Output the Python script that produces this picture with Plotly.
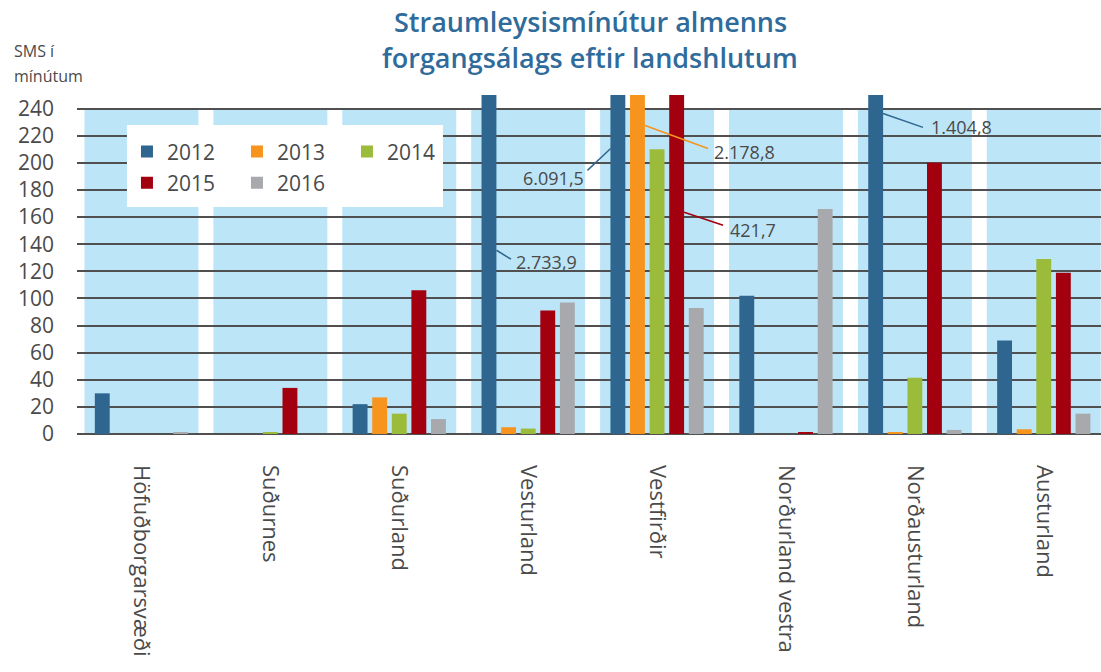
import plotly.graph_objects as go

categories = ["Höfuðborgarsvæði", "Suðurnes", "Suðurland", "Vesturland",
              "Vestfirðir", "Norðurland vestra", "Norðausturland", "Austurland"]
years = ["2012", "2013", "2014", "2015", "2016"]
v2012 = [30, 0, 22, 2733.9, 6091.5, 102, 1404.8, 69]
v2013 = [0, 0, 27, 5, 2178.8, 0, 1.5, 3.5]
v2014 = [0, 1, 15, 4, 210, 0, 41.5, 129]
v2015 = [0, 34, 106, 91, 421.7, 1.5, 200, 119]
v2016 = [1, 0, 11, 97, 93, 166, 3, 15]
series = [v2012, v2013, v2014, v2015, v2016]
colors = ["#2f6690", "#f7941d", "#9bbb3b", "#a3000f", "#a7a9ac"]
yticks = list(range(0, 241, 20))

FONT = "Open Sans"
TXT = "#4a4a4a"

fig = go.Figure()
x = list(range(len(categories)))
for i, (yr, vals, col) in enumerate(zip(years, series, colors)):
    fig.add_trace(go.Bar(
        x=x, y=vals, name=yr, marker=dict(color=col, line=dict(width=0)),
        legend="legend" if i < 3 else "legend2",
        hoverinfo="x+y+name",
    ))

shapes = []
# light-blue category bands
for c in x:
    shapes.append(dict(type="rect", xref="x", yref="y", x0=c - 0.442, x1=c + 0.442,
                       y0=0, y1=240, fillcolor="#bde5f8", line=dict(width=0), layer="below"))
# white legend box
shapes.append(dict(type="rect", xref="paper", yref="paper", x0=0.0488, x1=0.3574,
                   y0=0.6696, y1=0.9115, fillcolor="white", line=dict(width=0), layer="above"))


def fmt(v):
    s = f"{v:,.1f}"
    return s.replace(",", "X").replace(".", ",").replace("X", ".")

# leader lines and labels for clipped bars: (series idx, cat idx, line start, line end, text pos, anchor, color)
callouts = [
    (0, 4, (3.64, 210.6), (3.46, 194.4), (3.45, 188.5), "right", colors[0]),
    (0, 3, (2.754, 135.5), (2.867, 128.9), (2.89, 127.0), "left", colors[0]),
    (1, 4, (3.907, 227.5), (4.395, 210.6), (4.426, 208.0), "left", colors[1]),
    (3, 4, (4.21, 163.5), (4.512, 153.9), (4.55, 150.2), "left", colors[3]),
    (0, 6, (5.753, 236.4), (6.063, 226.1), (6.11, 226.4), "left", colors[0]),
]
annotations = []
for si, ci, p0, p1, tp, anchor, col in callouts:
    shapes.append(dict(type="line", xref="x", yref="y", x0=p0[0], y0=p0[1], x1=p1[0], y1=p1[1],
                       line=dict(color=col, width=1.5), layer="above"))
    annotations.append(dict(xref="x", yref="y", x=tp[0], y=tp[1], text=fmt(series[si][ci]),
                            showarrow=False, xanchor=anchor, yanchor="middle",
                            font=dict(family=FONT, size=18, color=TXT)))

annotations += [
    dict(xref="paper", yref="paper", x=-0.0635, y=1.130, text="SMS í", showarrow=False,
         xanchor="left", yanchor="middle", font=dict(family=FONT, size=16, color=TXT)),
    dict(xref="paper", yref="paper", x=-0.0635, y=1.056, text="mínútum", showarrow=False,
         xanchor="left", yanchor="middle", font=dict(family=FONT, size=16, color=TXT)),
    dict(xref="paper", yref="paper", x=0.501, y=1.218, text="Straumleysismínútur almenns",
         showarrow=False, xanchor="center", yanchor="middle",
         font=dict(family=FONT, size=27, color="#2f6b9b", weight=600)),
    dict(xref="paper", yref="paper", x=0.501, y=1.112, text="forgangsálags eftir landshlutum",
         showarrow=False, xanchor="center", yanchor="middle",
         font=dict(family=FONT, size=27, color="#2f6b9b", weight=600)),
]

legend_common = dict(orientation="h", bgcolor="rgba(0,0,0,0)", font=dict(family=FONT, size=21, color=TXT),
                     entrywidth=65, entrywidthmode="pixels", itemwidth=30,
                     xanchor="left", yanchor="middle", itemclick=False, itemdoubleclick=False)

fig.update_layout(
    width=1101, height=672,
    margin=dict(l=77, r=0, t=95, b=238, autoexpand=False),
    paper_bgcolor="white", plot_bgcolor="white",
    barmode="group", bargap=0.24, bargroupgap=0.24,
    showlegend=True,
    legend=dict(x=0.0488, y=0.832, **legend_common),
    legend2=dict(x=0.0488, y=0.740, **legend_common),
    shapes=shapes, annotations=annotations,
    font=dict(family=FONT, color=TXT),
    xaxis=dict(tickmode="array", tickvals=x, ticktext=categories, range=[-0.5, 7.444],
               tickangle=90, tickfont=dict(family=FONT, size=22, color=TXT),
               showgrid=False, zeroline=False, showline=False, ticks="",
               ticklabelstandoff=30, automargin=False, fixedrange=True),
    yaxis=dict(range=[0, 250], tickmode="array", tickvals=yticks,
               tickfont=dict(family=FONT, size=21, color=TXT),
               showgrid=True, gridcolor="#505050", gridwidth=2,
               zeroline=True, zerolinecolor="#505050", zerolinewidth=2,
               showline=False, ticks="", ticklabelstandoff=22, automargin=False, fixedrange=True),
)

fig.write_html("out.html")
